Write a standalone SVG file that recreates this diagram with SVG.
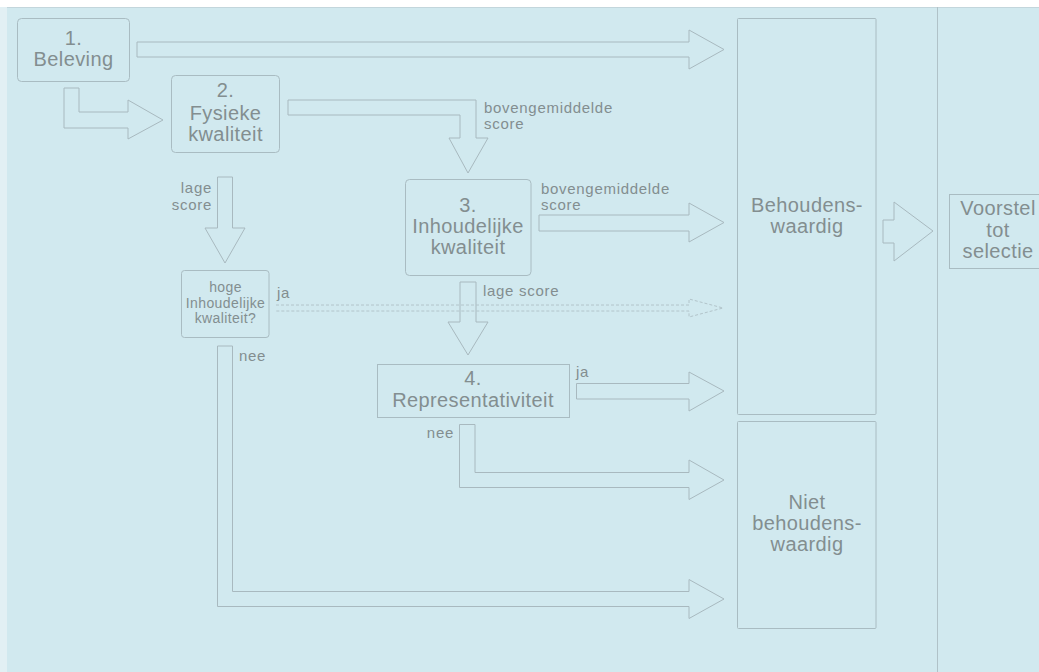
<svg xmlns="http://www.w3.org/2000/svg" width="1039" height="672" viewBox="0 0 1039 672">
<style>
.bg{fill:#d1e9ef}
.box{fill:none;stroke:#a9bcc2;stroke-width:1}
.arr{fill:none;stroke:#a8b9bf;stroke-width:1}
.dash{fill:none;stroke:#b2c4ca;stroke-width:1;stroke-dasharray:3 2}
.t{font-family:"Liberation Sans",Arial,sans-serif;fill:#838e90;text-anchor:middle}
.big{font-size:20px;letter-spacing:0.4px}
.sm{font-size:15px;letter-spacing:0.7px}
.xs{font-size:14px;letter-spacing:0.4px}
.l{text-anchor:start}
.r{text-anchor:end}
</style>
<rect x="0" y="0" width="1039" height="672" fill="#ffffff"/>
<rect x="0" y="7" width="7" height="665" fill="#e2f0f4"/>
<rect class="bg" x="7" y="7" width="1032" height="665"/>
<line x1="7" y1="7.5" x2="1039" y2="7.5" stroke="#c3d6dc" stroke-width="1"/>
<line x1="937.5" y1="7" x2="937.5" y2="672" stroke="#b0c2c8" stroke-width="1"/>

<g id="connectors">
  <polygon class="arr" points="137,42 689,42 689,30 724,49.5 689,69 689,57 137,57"/>
  <polygon class="arr" points="64,88 79,88 79,112 128,112 128,100 163,120 128,139 128,128 64,128"/>
  <polygon class="arr" points="288,100 476,100 476,138 488,138 468,173 449,138 460,138 460,115 288,115"/>
  <polygon class="arr" points="217.5,177 232.5,177 232.5,228 245,228 225,263 205,228 217.5,228"/>
  <polygon class="arr" points="539,215 689,215 689,203 724,222.5 689,242 689,231 539,231"/>
  <polygon class="arr" points="460,282 476,282 476,322 488,322 468,355 448,322 460,322"/>
  <path class="dash" d="M276,305 H689 V299 L723,308 L689,317 V311 H276"/>
  <polygon class="arr" points="576.5,383.5 689,383.5 689,372 724,391 689,411 689,399 576.5,399"/>
  <polygon class="arr" points="459.5,424.5 475,424.5 475,472.5 689,472.5 689,460 724,480 689,499.5 689,487.5 459.5,487.5"/>
  <polygon class="arr" points="217.5,346 232.5,346 232.5,591.5 689,591.5 689,579.5 724,599 689,618.5 689,606.5 217.5,606.5"/>
  <polygon class="arr" points="883,220 894,220 894,202 933,231 894,261 894,243 883,243"/>
  <text class="t sm l" x="484" y="113">bovengemiddelde</text>
  <text class="t sm l" x="484" y="129">score</text>
  <text class="t sm r" x="212" y="193">lage</text>
  <text class="t sm r" x="212" y="210">score</text>
  <text class="t sm l" x="541" y="194">bovengemiddelde</text>
  <text class="t sm l" x="541" y="210">score</text>
  <text class="t sm l" x="483" y="296">lage score</text>
  <text class="t sm l" x="277" y="298">ja</text>
  <text class="t sm l" x="239" y="361">nee</text>
  <text class="t sm l" x="576" y="377">ja</text>
  <text class="t sm r" x="454" y="438">nee</text>
</g>

<g id="node1">
  <rect class="box" x="17.5" y="18.5" width="112" height="63" rx="4"/>
  <text class="t big" x="73.5" y="45">1.</text>
  <text class="t big" x="73.5" y="66">Beleving</text>
</g>
<g id="node2">
  <rect class="box" x="171.5" y="75.5" width="108" height="77" rx="4"/>
  <text class="t big" x="225.5" y="97">2.</text>
  <text class="t big" x="225.5" y="120">Fysieke</text>
  <text class="t big" x="225.5" y="141">kwaliteit</text>
</g>
<g id="node3">
  <rect class="box" x="405.5" y="179.5" width="125.5" height="96" rx="4"/>
  <text class="t big" x="468" y="212">3.</text>
  <text class="t big" x="468" y="233">Inhoudelijke</text>
  <text class="t big" x="468" y="254">kwaliteit</text>
</g>
<g id="node-hoge">
  <rect class="box" x="181.5" y="270.5" width="87.5" height="67" rx="3"/>
  <text class="t xs" x="225.5" y="292">hoge</text>
  <text class="t xs" x="225.5" y="308">Inhoudelijke</text>
  <text class="t xs" x="225.5" y="323">kwaliteit?</text>
</g>
<g id="node4">
  <rect class="box" x="377.5" y="364.5" width="192" height="53"/>
  <text class="t big" x="473" y="385">4.</text>
  <text class="t big" x="473" y="407">Representativiteit</text>
</g>
<g id="node-behoudenswaardig">
  <rect class="box" x="737.5" y="18.5" width="138.5" height="396" rx="1"/>
  <text class="t big" x="807" y="212">Behoudens-</text>
  <text class="t big" x="807" y="233">waardig</text>
</g>
<g id="node-niet">
  <rect class="box" x="737.5" y="421.5" width="138.5" height="207" rx="1"/>
  <text class="t big" x="807" y="509">Niet</text>
  <text class="t big" x="807" y="530">behoudens-</text>
  <text class="t big" x="807" y="551">waardig</text>
</g>
<g id="node-voorstel">
  <rect class="box" x="949.5" y="194.5" width="100" height="74"/>
  <text class="t big" x="998" y="215">Voorstel</text>
  <text class="t big" x="998" y="237">tot</text>
  <text class="t big" x="998" y="258">selectie</text>
</g>
</svg>
